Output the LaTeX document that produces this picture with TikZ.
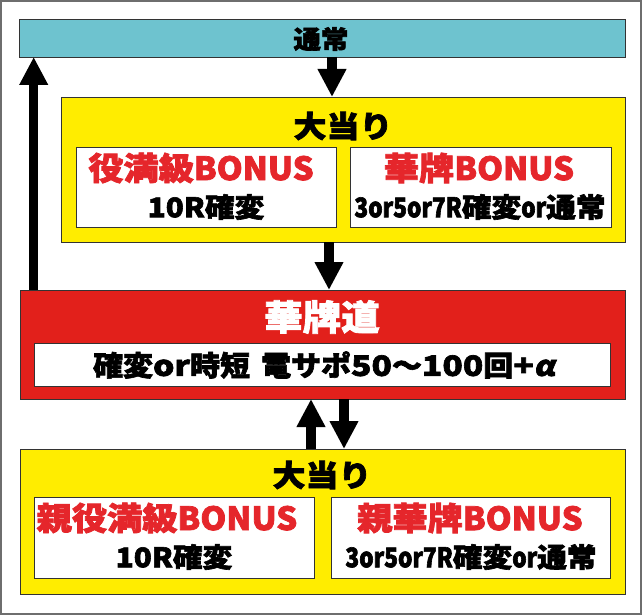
\documentclass[tikz,border=0pt]{standalone}
\usepackage{fontspec}
\setmainfont{Noto Sans CJK JP}
\newfontfamily\jpw[FakeStretch=1.1, BoldFeatures={FakeBold=2.3}]{Noto Sans CJK JP}
\newfontfamily\jpm[FakeStretch=1.07, BoldFeatures={FakeBold=2.3}]{Noto Sans CJK JP}
\newfontfamily\lat[FakeStretch=0.84, BoldFeatures={FakeBold=2.3}]{Noto Sans CJK JP}
\newfontfamily\latr[FakeStretch=1.03, BoldFeatures={FakeBold=2.3}]{Noto Sans CJK JP}
\newfontfamily\latm[FakeStretch=1.2, BoldFeatures={FakeBold=2.3}]{Noto Sans CJK JP}
\newfontfamily\jpsl[FakeSlant=0.2, FakeStretch=1.1, BoldFeatures={FakeBold=2.3}]{Noto Sans CJK JP}
\usetikzlibrary{arrows.meta}
\definecolor{cyanbox}{RGB}{110,195,207}
\definecolor{yellowbox}{RGB}{255,237,0}
\definecolor{redbox}{RGB}{226,32,27}
\definecolor{redtext}{RGB}{229,38,43}
\definecolor{framegray}{RGB}{110,110,110}
\newcommand{\Lt}[1]{{\lat #1}}
\newcommand{\Lr}[1]{{\latr #1}}
\newcommand{\Lm}[1]{{\latm #1}}
\tikzset{
  panel/.style={draw=black!80, line width=0.8pt, inner sep=0pt, outer sep=0pt},
  whitebox/.style={panel, fill=white},
  arr/.style={line width=9.5pt, -{Triangle[width=27pt,length=28pt]}},
  title/.style={font=\jpw\bfseries\fontsize{30}{30}\selectfont, inner sep=0pt},
  redlab/.style={font=\jpw\bfseries\fontsize{32}{32}\selectfont, text=redtext, inner sep=0pt},
  sublab/.style={font=\jpw\bfseries\fontsize{27}{27}\selectfont, text=black, inner sep=0pt},
  mainlab/.style={font=\jpm\bfseries\fontsize{28}{28}\selectfont, text=black, inner sep=0pt},
}
\begin{document}
\begin{tikzpicture}[x=1pt,y=-1pt]
\useasboundingbox (0,0) rectangle (642,615);
\draw[framegray, line width=2pt] (1,1) rectangle (641,614);
% boxes
\node[panel, fill=cyanbox, minimum width=606pt, minimum height=38pt] (normal) at (322,38) {};
\node[title, font=\jpw\bfseries\fontsize{25}{25}\selectfont] (normaltxt) at (321,39) {通常};
\node[panel, fill=yellowbox, minimum width=564pt, minimum height=145pt] (hit1) at (343,169.5) {};
\node[title] (hit1t) at (343,126) {大当り};
\node[whitebox, minimum width=260pt, minimum height=80pt] (b1) at (206,187) {};
\node[whitebox, minimum width=260.5pt, minimum height=80pt] (b2) at (480.75,187) {};
\node[redlab] (b1r) at (201,168) {役満級\Lr{BONUS}};
\node[sublab] (b1s) at (206,207) {10R確変};
\node[redlab] (b2r) at (479,168) {華牌\Lr{BONUS}};
\node[sublab] (b2s) at (480,207) {\Lt{3or5or7R}確変\Lt{or}通常};
\node[panel, fill=redbox, minimum width=605pt, minimum height=109pt] (road) at (322.5,344.5) {};
\node[title, text=white, font=\jpw\bfseries\fontsize{35}{35}\selectfont] (roadt) at (322,317) {華牌道};
\node[whitebox, minimum width=575.5pt, minimum height=43pt] (roadin) at (322.25,364.5) {};
\node[mainlab] (roads) at (324,365) {確変\Lm{or}時短\hspace{0.4em}電サポ\Lm{50}〜\Lm{100}回\Lm{+}{\jpsl\bfseries α}};
\node[panel, fill=yellowbox, minimum width=605pt, minimum height=145pt] (hit2) at (322.5,521.5) {};
\node[title] (hit2t) at (322,475) {大当り};
\node[whitebox, minimum width=280pt, minimum height=81pt] (b3) at (174,537.5) {};
\node[whitebox, minimum width=279pt, minimum height=81pt] (b4) at (470.5,537.5) {};
\node[redlab] (b3r) at (167,518) {親役満級\Lr{BONUS}};
\node[sublab] (b3s) at (174,557) {10R確変};
\node[redlab] (b4r) at (470,518) {親華牌\Lr{BONUS}};
\node[sublab] (b4s) at (471,557) {\Lt{3or5or7R}確変\Lt{or}通常};
% arrows
\coordinate (xa) at (332,0);
\coordinate (xb) at (329,0);
\coordinate (xc) at (33.7,0);
\coordinate (xd) at (311,0);
\coordinate (xe) at (344,0);
\draw[arr] (normal.south -| xa) -- (hit1.north -| xa);
\draw[arr] (hit1.south -| xb) -- (road.north -| xb);
\draw[arr] (road.north -| xc) -- (normal.south -| xc);
\draw[arr] (hit2.north -| xd) -- (road.south -| xd);
\draw[arr] (road.south -| xe) -- (hit2.north -| xe);
\end{tikzpicture}
\end{document}
